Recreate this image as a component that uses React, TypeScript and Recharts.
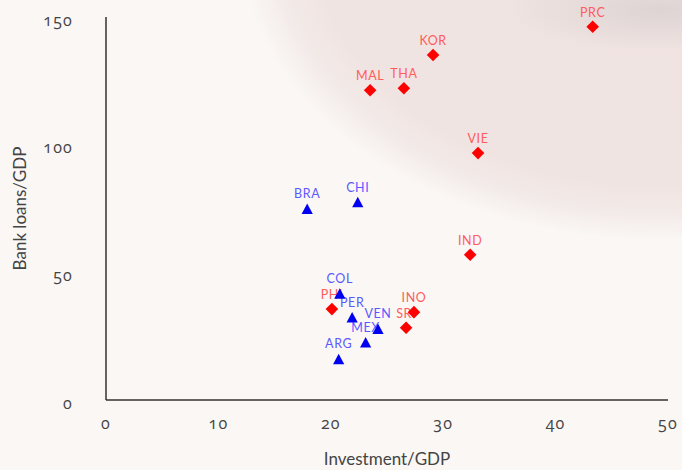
import { ScatterChart, Scatter, XAxis, YAxis, Label } from "recharts";

// Asia (red diamonds)
const asiaNames = ["PRC", "KOR", "THA", "MAL", "VIE", "IND", "PHI", "INO", "SRI"];
const asiaInvest = [43.3, 29.1, 26.5, 23.5, 33.1, 32.4, 20.1, 27.4, 26.7];
const asiaLoans = [146.2, 135.1, 122.1, 121.3, 96.7, 56.9, 35.6, 34.4, 28.3];

// Latin America (blue triangles)
const latamNames = ["BRA", "CHI", "COL", "PER", "VEN", "MEX", "ARG"];
const latamInvest = [17.9, 22.4, 20.8, 21.9, 24.2, 23.1, 20.7];
const latamLoans = [75.1, 77.7, 41.9, 32.6, 28.1, 22.8, 16.3];

const xTicks = [0, 10, 20, 30, 40, 50];
const yTicks = [0, 50, 100, 150];

const asia = asiaNames.map((name, i) => ({ name, x: asiaInvest[i], y: asiaLoans[i] }));
const latam = latamNames.map((name, i) => ({ name, x: latamInvest[i], y: latamLoans[i] }));

const FONT = "Lato, 'Open Sans', sans-serif";
const NUM_FONT = "'Open Sans', Lato, sans-serif";

const Diamond = (p: any) => {
  const r = 6.3;
  return <polygon points={`${p.cx},${p.cy - r} ${p.cx + r},${p.cy} ${p.cx},${p.cy + r} ${p.cx - r},${p.cy}`} fill="#ff0000" />;
};

const Triangle = (p: any) => {
  const h = 9.5, w = 5.6;
  const cy = p.cy + 1;
  return <polygon points={`${p.cx},${cy - h / 2 - 1} ${p.cx + w},${cy + h / 2} ${p.cx - w},${cy + h / 2}`} fill="#0000f0" />;
};

const nameLabel = (color: string) => (p: any) => (
  <text x={p.cx} y={p.cy - 10} textAnchor="middle" fill={color} fontSize={12.5} fontFamily={FONT} letterSpacing={0.6}>
    {p.payload.name}
  </text>
);

export default function App() {
  return (
    <div
      style={{
        position: "fixed",
        left: 0,
        top: 0,
        width: 682,
        height: 470,
        background:
          "radial-gradient(ellipse 150px 40px at 660px 10px, rgba(205,200,200,0.55), rgba(205,200,200,0) 100%)," +
          "radial-gradient(ellipse 420px 300px at 660px -60px, #efe2e0 0%, #f0e4e2 82%, #f3ebe9 92%, rgba(250,247,245,0) 100%)," +
          "#faf7f5",
      }}
    >
      <ScatterChart width={682} height={470} margin={{ top: 17, right: 14, bottom: 0, left: 0 }}>
        <XAxis
          type="number"
          dataKey="x"
          domain={[0, 50]}
          ticks={xTicks}
          tickLine={false}
          tickSize={0}
          tickMargin={18}
          height={70}
          axisLine={{ stroke: "#333", strokeWidth: 1.5 }}
          tick={{ fill: "#444", fontSize: 16, fontFamily: NUM_FONT, letterSpacing: 1.2, style: { fontVariantNumeric: "oldstyle-nums" } }}
        >
          <Label value="Investment/GDP" position="insideBottom" offset={5} fill="#444" fontSize={17} fontFamily={FONT} />
        </XAxis>
        <YAxis
          type="number"
          dataKey="y"
          domain={[0, 150]}
          ticks={yTicks}
          tickLine={false}
          tickSize={0}
          tickMargin={33}
          width={106}
          axisLine={{ stroke: "#333", strokeWidth: 1.5 }}
          tick={{ fill: "#444", fontSize: 16, fontFamily: NUM_FONT, letterSpacing: 1.2, dy: 3, style: { fontVariantNumeric: "oldstyle-nums" } }}
        >
          <Label value="Bank loans/GDP" angle={-90} position="insideLeft" offset={20} fill="#444" fontSize={17} fontFamily={FONT} style={{ textAnchor: "middle" }} />
        </YAxis>
        <Scatter data={asia} shape={nameLabel("#ff5c5c")} isAnimationActive={false} />
        <Scatter data={latam} shape={nameLabel("#5a5aff")} isAnimationActive={false} />
        <Scatter data={asia} shape={Diamond} isAnimationActive={false} />
        <Scatter data={latam} shape={Triangle} isAnimationActive={false} />
      </ScatterChart>
    </div>
  );
}
